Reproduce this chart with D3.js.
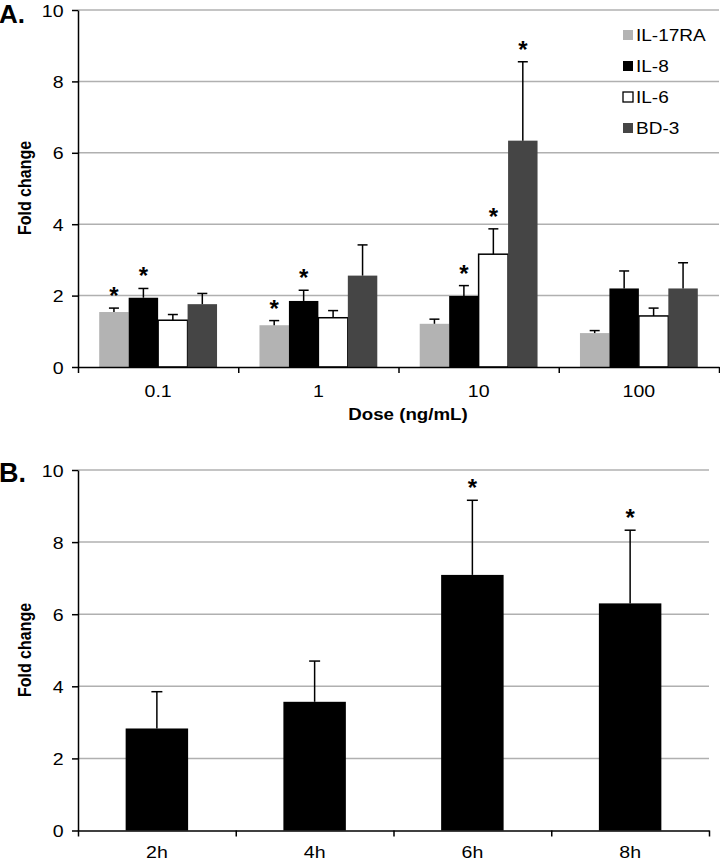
<!DOCTYPE html>
<html>
<head>
<meta charset="utf-8">
<script src="https://cdn.jsdelivr.net/npm/d3@7"></script>
<style>
  html, body { margin: 0; padding: 0; background: #fff; }
  svg { display: block; font-family: "Liberation Sans", Arial, sans-serif; }
</style>
</head>
<body>
<svg id="chart" width="720" height="862"></svg>
<script>
// ---------- Data ----------
const doses = ["0.1", "1", "10", "100"];
const seriesA = ["IL-17RA", "IL-8", "IL-6", "BD-3"];
const il17ra = [1.54, 1.17, 1.21, 0.95];
const il17raErr = [0.11, 0.13, 0.13, 0.07];
const il17raSig = [1, 1, 0, 0];
const il8 = [1.94, 1.85, 1.99, 2.20];
const il8Err = [0.26, 0.30, 0.29, 0.49];
const il8Sig = [1, 1, 1, 0];
const il6 = [1.31, 1.38, 3.16, 1.43];
const il6Err = [0.16, 0.20, 0.71, 0.22];
const il6Sig = [0, 0, 1, 0];
const bd3 = [1.76, 2.56, 6.34, 2.20];
const bd3Err = [0.30, 0.86, 2.21, 0.72];
const bd3Sig = [0, 0, 1, 0];

const times = ["2h", "4h", "6h", "8h"];
const timeVals = [2.83, 3.57, 7.09, 6.30];
const timeErr = [1.02, 1.13, 2.07, 2.03];
const timeSig = [0, 0, 1, 1];

const yTicks = [0, 2, 4, 6, 8, 10];

// ---------- Styles ----------
const seriesFill = {"IL-17RA": "#b3b3b3", "IL-8": "#000000", "IL-6": "#ffffff", "BD-3": "#454545"};
const seriesStroke = {"IL-17RA": "none", "IL-8": "none", "IL-6": "#000000", "BD-3": "none"};
const gridColor = "#b0b0b0";
const SX = 1.15; // horizontal stretch of text in reference

const svg = d3.select("#chart");

function stretchedText(g, x, y, txt, opts) {
  return g.append("text")
    .attr("transform", `translate(${x},${y}) scale(${opts.sx || SX},1)`)
    .attr("text-anchor", opts.anchor || "start")
    .attr("font-size", opts.size || 17)
    .attr("font-weight", opts.weight || "normal")
    .attr("fill", "#000")
    .text(txt);
}

function drawGrid(g, y, x0, x1) {
  g.append("g").selectAll("line").data(yTicks.filter(d => d > 0)).join("line")
    .attr("x1", x0).attr("x2", x1)
    .attr("y1", d => y(d)).attr("y2", d => y(d))
    .attr("stroke", gridColor).attr("stroke-width", 1.5);
}

function styleAxis(ax) {
  ax.selectAll("path.domain").attr("stroke", "#000").attr("stroke-width", 1.5);
  ax.selectAll(".tick line").attr("stroke", "#000").attr("stroke-width", 1.5);
}

function drawYAxis(g, y, x0) {
  const ax = g.append("g").attr("transform", `translate(${x0},0)`)
    .call(d3.axisLeft(y).tickValues(yTicks).tickSize(6).tickSizeOuter(0).tickFormat(d3.format("d")));
  styleAxis(ax);
  ax.selectAll(".tick text")
    .attr("x", -12.6).attr("dy", "0.36em")
    .attr("transform", `scale(${SX},1)`)
    .attr("font-size", 17).attr("font-family", "Liberation Sans, Arial, sans-serif").attr("fill", "#000");
}

function drawXAxis(g, band, yBase, x0, x1, labelY) {
  const n = band.domain().length;
  const boundary = d3.scaleLinear().domain([0, n]).range([x0, x1]);
  const ax = g.append("g").attr("transform", `translate(0,${yBase})`)
    .call(d3.axisBottom(boundary).tickValues(d3.range(n + 1)).tickSize(6).tickSizeOuter(0).tickFormat(""));
  styleAxis(ax);
  const lab = g.append("g").attr("transform", `translate(0,${yBase})`)
    .call(d3.axisBottom(band).tickSize(0));
  lab.select("path.domain").remove();
  lab.selectAll(".tick text")
    .attr("y", labelY).attr("dy", "0.71em")
    .attr("transform", `scale(${SX},1)`)
    .attr("font-size", 17).attr("font-family", "Liberation Sans, Arial, sans-serif").attr("fill", "#000");
}

function yLabel(g, x, cy, txt) {
  g.append("text")
    .attr("transform", `translate(${x},${cy}) rotate(-90) scale(1,${SX})`)
    .attr("text-anchor", "middle")
    .attr("font-size", 16).attr("font-weight", "bold").attr("fill", "#000")
    .text(txt);
}

function errorBar(g, cx, yv, ye, cap) {
  g.append("line").attr("x1", cx).attr("x2", cx).attr("y1", yv).attr("y2", ye)
    .attr("stroke", "#000").attr("stroke-width", 1.5);
  g.append("line").attr("x1", cx - cap / 2).attr("x2", cx + cap / 2).attr("y1", ye).attr("y2", ye)
    .attr("stroke", "#000").attr("stroke-width", 1.5);
}

function star(g, cx, ye) {
  g.append("text").attr("x", cx).attr("y", ye - 4)
    .attr("text-anchor", "middle").attr("font-size", 24).attr("font-weight", "bold")
    .attr("fill", "#000").text("*");
}

// ---------- Panel A ----------
{
  const x0 = 78, x1 = 719;
  const y = d3.scaleLinear().domain([0, 10]).range([367, 10]);
  const x = d3.scaleBand().domain(doses).range([x0, x1]).padding(0);
  const xi = d3.scaleBand().domain(seriesA).range([0, x.bandwidth()]).paddingInner(0).paddingOuter(0.72);
  const g = svg.append("g");

  drawGrid(g, y, x0, x1);

  const vals = {"IL-17RA": il17ra, "IL-8": il8, "IL-6": il6, "BD-3": bd3};
  const errs = {"IL-17RA": il17raErr, "IL-8": il8Err, "IL-6": il6Err, "BD-3": bd3Err};
  const sigs = {"IL-17RA": il17raSig, "IL-8": il8Sig, "IL-6": il6Sig, "BD-3": bd3Sig};

  const rows = [];
  doses.forEach((d, i) => seriesA.forEach(s => rows.push({dose: d, s, v: vals[s][i], e: errs[s][i], sig: sigs[s][i]})));

  g.append("g").selectAll("rect").data(rows).join("rect")
    .attr("x", r => x(r.dose) + xi(r.s))
    .attr("y", r => y(r.v))
    .attr("width", xi.bandwidth())
    .attr("height", r => y(0) - y(r.v))
    .attr("fill", r => seriesFill[r.s])
    .attr("stroke", r => seriesStroke[r.s])
    .attr("stroke-width", 1.5);

  const eg = g.append("g");
  rows.forEach(r => {
    const cx = x(r.dose) + xi(r.s) + xi.bandwidth() / 2;
    errorBar(eg, cx, y(r.v), y(r.v + r.e), 10);
    if (r.sig) star(eg, cx, y(r.v + r.e));
  });

  drawYAxis(g, y, x0);
  drawXAxis(g, x, y(0), x0, x1, 17.5);

  stretchedText(g, 408, 420, "Dose (ng/mL)", {anchor: "middle", weight: "bold", size: 17, sx: 1.1});
  yLabel(g, 31, 188, "Fold change");
  g.append("text").attr("x", -1).attr("y", 23).attr("font-size", 26).attr("font-weight", "bold").attr("fill", "#000").text("A.");

  // legend
  const lg = g.append("g");
  const legY = d3.scalePoint().domain(seriesA).range([35, 128]);
  seriesA.forEach(s => {
    lg.append("rect").attr("x", 623).attr("y", legY(s) - 5).attr("width", 10).attr("height", 10)
      .attr("fill", seriesFill[s]).attr("stroke", s === "IL-6" ? "#000" : "none").attr("stroke-width", 1.3);
    stretchedText(lg, 636, legY(s) + 6, s, {size: 17, sx: 1.12});
  });
}

// ---------- Panel B ----------
{
  const x0 = 78, x1 = 709;
  const y = d3.scaleLinear().domain([0, 10]).range([830.5, 470]);
  const x = d3.scaleBand().domain(times).range([x0, x1]).paddingInner(0.604).paddingOuter(0.302);
  const g = svg.append("g");

  drawGrid(g, y, x0, x1);

  const rows = times.map((t, i) => ({t, v: timeVals[i], e: timeErr[i], sig: timeSig[i]}));
  g.append("g").selectAll("rect").data(rows).join("rect")
    .attr("x", r => x(r.t)).attr("y", r => y(r.v))
    .attr("width", x.bandwidth()).attr("height", r => y(0) - y(r.v))
    .attr("fill", "#000");

  const eg = g.append("g");
  rows.forEach(r => {
    const cx = x(r.t) + x.bandwidth() / 2;
    errorBar(eg, cx, y(r.v), y(r.v + r.e), 11);
    if (r.sig) star(eg, cx, y(r.v + r.e));
  });

  drawYAxis(g, y, x0);
  const xb = d3.scaleBand().domain(times).range([x0, x1]).padding(0);
  drawXAxis(g, xb, y(0), x0, x1, 15);

  yLabel(g, 31, 650, "Fold change");
  g.append("text").attr("x", -1).attr("y", 481.5).attr("font-size", 27).attr("font-weight", "bold").attr("fill", "#000").text("B.");
}
</script>
</body>
</html>
